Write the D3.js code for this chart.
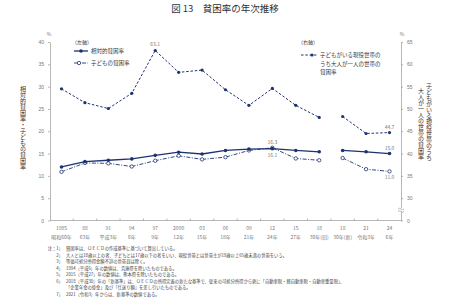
<!DOCTYPE html>
<html>
<head>
<meta charset="utf-8">
<script src="https://cdn.jsdelivr.net/npm/d3@7"></script>
<style>
  body { margin: 0; background: #fff; }
  svg { font-family: "Noto Sans CJK JP", sans-serif; }
  .axis path, .axis line { stroke: #999; stroke-width: 0.7; }
  .axis text { fill: #777; font-size: 5px; }
  .vt { writing-mode: vertical-rl; text-orientation: upright; font-size: 6px; fill: #333; }
</style>
</head>
<body>
<svg id="chart" width="450" height="300"></svg>
<script>
// data
const years   = ["1985", "88", "91", "94", "97", "2000", "03", "06", "09", "12", "15", "18a", "18b", "21", "24"];
const yearTop = ["1985", "88", "91", "94", "97", "2000", "03", "06", "09", "12", "15", "18", "18", "21", "24"];
const yearBot = ["昭和60年", "63年", "平成3年", "6年", "9年", "12年", "15年", "18年", "21年", "24年", "27年", "30年(旧)", "30年(新)", "令和3年", "6年"];
const relative = [12.0, 13.2, 13.5, 13.8, 14.6, 15.3, 14.9, 15.7, 16.0, 16.1, 15.7, 15.4, 15.7, 15.4, 15.0];
const child    = [10.9, 12.9, 12.8, 12.1, 13.4, 14.5, 13.7, 14.2, 15.7, 16.3, 13.9, 13.5, 14.0, 11.5, 11.0];
const single   = [54.5, 51.4, 50.1, 53.5, 63.1, 58.2, 58.7, 54.3, 50.8, 54.6, 50.8, 48.1, 48.3, 44.5, 44.7];
const leftTicks  = [0, 5, 10, 15, 20, 25, 30, 35, 40];
const rightTicks = [25, 30, 35, 40, 45, 50, 55, 60, 65];
const notes = [
  ["注：1）", "貧困率は、ＯＥＣＤの作成基準に基づいて算出している。"],
  ["2）", "大人とは18歳以上の者、子どもとは17歳以下の者をいい、現役世帯とは世帯主が18歳以上65歳未満の世帯をいう。"],
  ["3）", "等価可処分所得金額不詳の世帯員は除く。"],
  ["4）", "1994（平成6）年の数値は、兵庫県を除いたものである。"],
  ["5）", "2015（平成27）年の数値は、熊本県を除いたものである。"],
  ["6）", "2018（平成30）年の「新基準」は、ＯＥＣＤの所得定義の新たな基準で、従来の可処分所得から更に「自動車税・軽自動車税・自動車重量税」、"],
  ["", "「企業年金の掛金」及び「仕送り額」を差し引いたものである。"],
  ["7）", "2021（令和3）年からは、新基準の数値である。"]
];

const chart = d3.select("#chart");
const navy = "#1d3370";

// scales
let x = d3.scalePoint().domain(years).range([61.5, 389.5]);
let y = d3.scaleLinear().domain([0, 40]).range([220.5, 42]);
let yR = d3.scaleLinear().domain([25, 65]).range([220.5, 42]);

// title
chart.append("text")
  .text("図 13　貧困率の年次推移")
  .attr("x", 225).attr("y", 12)
  .attr("text-anchor", "middle")
  .style("font-size", "9.5px")
  .attr("fill", "#333");

// left axis
chart.append("g")
  .attr("class", "axis")
  .attr("transform", "translate(50,0)")
  .call(d3.axisLeft(y).tickValues(leftTicks).tickSize(2).tickSizeOuter(0).tickPadding(4));

// right axis
let rAxis = chart.append("g")
  .attr("class", "axis")
  .attr("transform", "translate(401,0)")
  .call(d3.axisRight(yR).tickValues(rightTicks).tickSize(2).tickSizeOuter(0).tickPadding(4)
    .tickFormat(function (d) { return d === 25 ? "0" : d; }));
// axis break mark
rAxis.append("rect").attr("x", -3).attr("y", 208).attr("width", 6).attr("height", 4).attr("fill", "#fff");
rAxis.append("path")
  .attr("d", "M-3,209 q1.5,-1.5 3,0 t3,0 M-3,211.5 q1.5,-1.5 3,0 t3,0")
  .attr("fill", "none").attr("stroke", "#999").attr("stroke-width", 0.6);

// % marks
chart.append("text").text("%").attr("x", 49).attr("y", 36)
  .attr("text-anchor", "middle").style("font-size", "5px").attr("fill", "#777");
chart.append("text").text("%").attr("x", 402).attr("y", 36)
  .attr("text-anchor", "middle").style("font-size", "5px").attr("fill", "#777");

// x axis
let xAxis = chart.append("g")
  .attr("class", "axis")
  .attr("transform", "translate(0,220.5)");
xAxis.append("line").attr("x1", 50).attr("x2", 401).attr("y1", 0).attr("y2", 0);
let xt = xAxis.selectAll(".xt")
  .data(years)
  .enter().append("g")
  .attr("transform", function (d) { return "translate(" + x(d) + ",0)"; });
xt.append("line").attr("x1", 11.7).attr("x2", 11.7).attr("y1", 0).attr("y2", -2)
  .attr("display", function (d, i) { return i < years.length - 1 ? null : "none"; });
xt.append("text").text(function (d, i) { return yearTop[i]; })
  .attr("y", 9).attr("text-anchor", "middle");
xt.append("text").text(function (d, i) { return yearBot[i]; })
  .attr("y", 18).attr("text-anchor", "middle");

// y axis titles (vertical)
chart.append("text").attr("class", "vt")
  .text("相対的貧困率・子どもの貧困率")
  .attr("x", 23).attr("y", 86);
chart.append("text").attr("class", "vt")
  .text("子どもがいる現役世帯のうち")
  .attr("x", 429).attr("y", 83);
chart.append("text").attr("class", "vt")
  .text("大人が一人の世帯の貧困率")
  .attr("x", 421).attr("y", 88);

// lines, broken between 18(旧) and 18(新)
const segments = [[0, 11], [12, 14]];
function drawSeries(vals, scale, dash, width) {
  segments.forEach(function (s) {
    let idx = d3.range(s[0], s[1] + 1);
    chart.append("path")
      .datum(idx)
      .attr("fill", "none")
      .attr("stroke", navy)
      .attr("stroke-width", width)
      .attr("stroke-dasharray", dash)
      .attr("d", d3.line()
        .x(function (i) { return x(years[i]); })
        .y(function (i) { return scale(vals[i]); }));
  });
}
drawSeries(single, yR, "2.5,1.8", 1);
drawSeries(child, y, "4,1.5,1,1.5", 0.9);
drawSeries(relative, y, null, 1.3);

// markers
chart.selectAll(".ms").data(single).enter().append("circle")
  .attr("cx", function (d, i) { return x(years[i]); })
  .attr("cy", function (d) { return yR(d); })
  .attr("r", 1.6).attr("fill", navy);
chart.selectAll(".mc").data(child).enter().append("circle")
  .attr("cx", function (d, i) { return x(years[i]); })
  .attr("cy", function (d) { return y(d); })
  .attr("r", 1.7).attr("fill", "#fff").attr("stroke", navy).attr("stroke-width", 0.8);
chart.selectAll(".mr").data(relative).enter().append("circle")
  .attr("cx", function (d, i) { return x(years[i]); })
  .attr("cy", function (d) { return y(d); })
  .attr("r", 1.8).attr("fill", navy);

// value labels
function valLabel(txt, xx, yy) {
  chart.append("text").text(txt).attr("x", xx).attr("y", yy)
    .attr("text-anchor", "middle").style("font-size", "5px").attr("fill", "#777");
}
valLabel(single[4].toFixed(1), x(years[4]), yR(single[4]) - 4);
valLabel(single[14].toFixed(1), x(years[14]), yR(single[14]) - 4);
valLabel(child[9].toFixed(1), x(years[9]), y(child[9]) - 4);
valLabel(relative[9].toFixed(1), x(years[9]), y(relative[9]) + 8);
valLabel(relative[14].toFixed(1), x(years[14]), y(relative[14]) - 4);
valLabel(child[14].toFixed(1), x(years[14]), y(child[14]) + 8);

// legend left
chart.append("text").text("（左軸）").attr("x", 72).attr("y", 44)
  .style("font-size", "5px").attr("fill", "#333");
chart.append("line").attr("x1", 74).attr("x2", 88).attr("y1", 51).attr("y2", 51)
  .attr("stroke", navy).attr("stroke-width", 1.3);
chart.append("circle").attr("cx", 81).attr("cy", 51).attr("r", 1.8).attr("fill", navy);
chart.append("text").text("相対的貧困率").attr("x", 91).attr("y", 53)
  .style("font-size", "5.5px").attr("fill", "#333");
chart.append("line").attr("x1", 74).attr("x2", 88).attr("y1", 63).attr("y2", 63)
  .attr("stroke", navy).attr("stroke-width", 0.9).attr("stroke-dasharray", "4,1.5,1,1.5");
chart.append("circle").attr("cx", 79).attr("cy", 63).attr("r", 1.7)
  .attr("fill", "#fff").attr("stroke", navy).attr("stroke-width", 0.8);
chart.append("text").text("子どもの貧困率").attr("x", 91).attr("y", 65)
  .style("font-size", "5.5px").attr("fill", "#333");

// legend right
chart.append("text").text("（右軸）").attr("x", 298).attr("y", 44)
  .style("font-size", "5px").attr("fill", "#333");
chart.append("line").attr("x1", 301).attr("x2", 317).attr("y1", 55).attr("y2", 55)
  .attr("stroke", navy).attr("stroke-width", 1).attr("stroke-dasharray", "2.5,1.8");
chart.append("circle").attr("cx", 312).attr("cy", 55).attr("r", 1.6).attr("fill", navy);
["子どもがいる現役世帯の", "うち大人が一人の世帯の", "貧困率"].forEach(function (t, i) {
  chart.append("text").text(t).attr("x", 320).attr("y", 57 + i * 8.5)
    .style("font-size", "5.5px").attr("fill", "#333");
});

// notes
notes.forEach(function (n, i) {
  chart.append("text").text(n[0]).attr("x", 63).attr("y", 250 + i * 6.5)
    .attr("text-anchor", "end").style("font-size", "4.3px").attr("fill", "#444");
  chart.append("text").text(n[1]).attr("x", 66).attr("y", 250 + i * 6.5)
    .style("font-size", "4.3px").attr("fill", "#444");
});
</script>
</body>
</html>
